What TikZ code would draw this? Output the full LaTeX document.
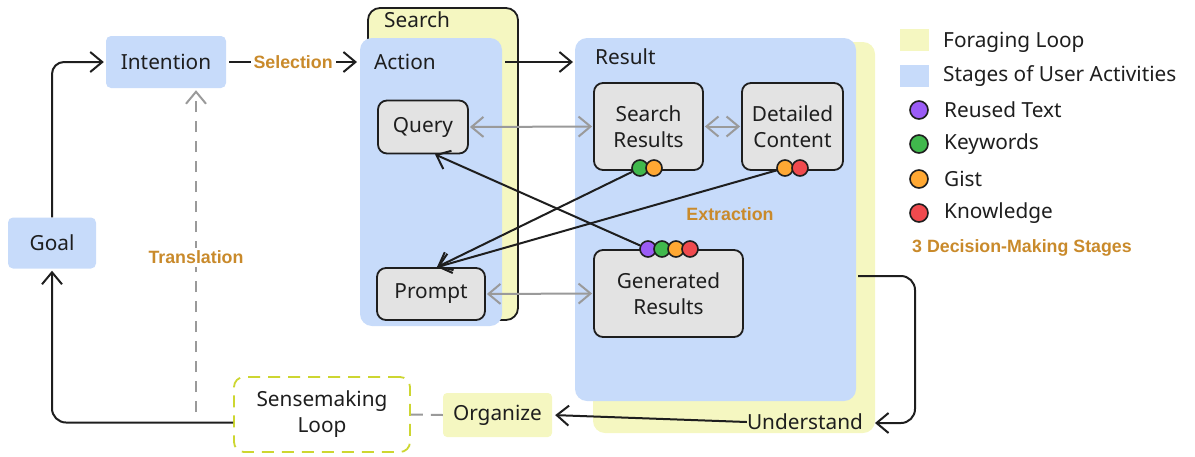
\documentclass[tikz,border=0pt]{standalone}
\usepackage{fontspec}
\setmainfont{Noto Sans}[AutoFakeBold=2.5]
\newfontfamily\lblface{Liberation Sans}
\usetikzlibrary{arrows.meta,calc}
\definecolor{bluebg}{HTML}{C7DBFA}
\definecolor{yellowbg}{HTML}{F5F7C1}
\definecolor{graybox}{HTML}{E3E3E3}
\definecolor{ink}{HTML}{1E1E1E}
\definecolor{lbl}{HTML}{C98A2B}
\definecolor{grayarr}{HTML}{9A9A9A}
\definecolor{senseb}{HTML}{CDD631}
\definecolor{dpurple}{HTML}{9B5CF6}
\definecolor{dgreen}{HTML}{40B84C}
\definecolor{dorange}{HTML}{FFA833}
\definecolor{dred}{HTML}{F04A4E}
\begin{document}
\begin{tikzpicture}[x=1pt,y=-1pt,
  every node/.style={font=\fontsize{20.8}{26}\selectfont, text=ink},
  bluebox/.style={fill=bluebg, rounded corners=5pt, inner sep=0pt},
  framebox/.style={rounded corners=12pt, inner sep=0pt},
  graynode/.style={fill=graybox, draw=ink, line width=1.8pt, rounded corners=9pt, inner sep=0pt, align=center},
  plain/.style={inner sep=0pt, anchor=west},
  lblfont/.style={font=\lblface\fontsize{17.8}{20}\selectfont\bfseries, text=lbl},
  orangelbl/.style={lblfont, fill=white, inner sep=3pt},
  tipb/.tip={Straight Barb[length=12pt,width=20pt,line width=2pt]},
  blk/.style={draw=ink, line width=2pt, -tipb},
  garr/.style={draw=grayarr, line width=2pt, tipb-tipb},
  gdash/.style={draw=grayarr, line width=2pt, dash pattern=on 11pt off 9pt, -tipb},
  dotnode/.style={circle, draw=ink, line width=1.6pt, minimum size=16pt, inner sep=0pt},
]
\useasboundingbox (0,0) rectangle (1195,456);

% big background frames
\node[framebox, fill=yellowbg, draw=ink, line width=1.8pt, minimum width=150pt, minimum height=312pt] (searchf) at (443,164) {};
\node[framebox, fill=bluebg, minimum width=142pt, minimum height=288pt] (action) at (431,182) {};
\node[framebox, fill=yellowbg, minimum width=282pt, minimum height=391pt] (resulty) at (734,237.5) {};
\node[framebox, fill=bluebg, minimum width=281pt, minimum height=363pt] (result) at (715.5,219.5) {};

\node[plain] (searchlbl) at (384,20) {Search};
\node[plain] (actionlbl) at (374,62) {Action};
\node[plain] (resultlbl) at (595,57) {Result};

% left nodes
\node[bluebox, minimum width=88pt, minimum height=51pt] (goal) at (52,243) {Goal};
\node[bluebox, minimum width=120pt, minimum height=52pt] (intention) at (166,62) {Intention};

% gray nodes
\node[graynode, minimum width=90pt, minimum height=53pt] (query) at (423,127) {Query};
\node[graynode, minimum width=108pt, minimum height=52pt] (prompt) at (431,294) {Prompt};
\node[graynode, minimum width=109pt, minimum height=87pt] (sr) at (648.5,126.5) {Search\\Results};
\node[graynode, minimum width=101pt, minimum height=87pt] (dc) at (792.5,126.5) {Detailed\\Content};
\node[graynode, minimum width=149pt, minimum height=87pt] (gr) at (668.5,293.5) {Generated\\Results};

% dots
\node[dotnode, fill=dgreen] (srg) at (640,168) {};
\node[dotnode, fill=dorange] (sro) at (654,168) {};
\node[dotnode, fill=dorange] (dco) at (785,168) {};
\node[dotnode, fill=dred] (dcr) at (800,168) {};
\node[dotnode, fill=dpurple] (grp) at (648,249) {};
\node[dotnode, fill=dgreen] (grg) at (662,249) {};
\node[dotnode, fill=dorange] (gro) at (676,249) {};
\node[dotnode, fill=dred] (grr) at (690,249) {};

% bottom nodes
\node[fill=yellowbg, rounded corners=4pt, inner sep=0pt, minimum width=109pt, minimum height=44pt] (organize) at (497.5,415) {Organize};
\node[draw=senseb, dash pattern=on 12pt off 8pt, line width=1.8pt, rounded corners=10pt, inner sep=0pt, minimum width=176pt, minimum height=75pt, align=center] (sense) at (322,414.5) {Sensemaking\\Loop};
\node[inner sep=0pt] (understand) at (805,422) {Understand};

% labels
\node[lblfont, inner sep=0pt] (extraction) at (730,214) {Extraction};

% connectors
\draw[blk, rounded corners=12pt, shorten >=2pt] (goal.north) |- (intention.west);
\coordinate (selend) at (357,62);
\draw[blk] ([xshift=3pt]intention.east) -- node[orangelbl] {Selection} (selend);
\coordinate (arstart) at (505,62);
\coordinate (arend) at (573,62);
\draw[blk] (arstart) -- (arend);

\draw[garr] ([xshift=1pt]query.east) -- ([xshift=-1pt]sr.west);
\draw[garr] ([xshift=1pt]sr.east) -- ([xshift=-1pt]dc.west);
\draw[garr] ([xshift=1pt]prompt.east) -- ([xshift=-1pt]gr.west);

\draw[blk] (srg) -- ([xshift=6pt]prompt.north);
\draw[blk] (dco) -- ([xshift=6pt]prompt.north);
\draw[blk] (grp) -- ([xshift=12pt]query.south);

\coordinate (loopstart) at (858,276);
\coordinate (loopend) at (875,423);
\draw[blk, rounded corners=14pt] (loopstart) -- (915,276) -- (915,423) -- (loopend);
\draw[blk, shorten >=3pt] (understand.west) -- (organize.east);
\draw[draw=grayarr, line width=2pt, dash pattern=on 12pt off 8pt] (organize.west) -- (sense.east);
\draw[blk, rounded corners=14pt, shorten >=2pt] ($(sense.west)+(0,8)$) -| (goal.south);

\coordinate (tstart) at (196,412);
\draw[gdash, shorten >=2pt] (tstart) -- node[pos=0.478, orangelbl] {Translation} (intention.south -| tstart);

% legend
\node[fill=yellowbg, inner sep=0pt, minimum width=29pt, minimum height=22pt] (lgy) at (914.5,40) {};
\node[plain] (lgyt) at (943,42) {Foraging Loop};
\node[fill=bluebg, inner sep=0pt, minimum width=29pt, minimum height=22pt] (lgb) at (914.5,76) {};
\node[plain] (lgbt) at (943,76) {Stages of User Activities};
\node[dotnode, fill=dpurple, minimum size=18pt] (lg1) at (919,110) {};
\node[plain] (lg1t) at (944,110) {Reused Text};
\node[dotnode, fill=dgreen, minimum size=18pt] (lg2) at (919,144) {};
\node[plain] (lg2t) at (944,144) {Keywords};
\node[dotnode, fill=dorange, minimum size=18pt] (lg3) at (919,179) {};
\node[plain] (lg3t) at (944,179) {Gist};
\node[dotnode, fill=dred, minimum size=18pt] (lg4) at (919,213) {};
\node[plain] (lg4t) at (944,213) {Knowledge};
\node[plain, lblfont] (lgd) at (912,248) {3 Decision-Making Stages};
\end{tikzpicture}
\end{document}
